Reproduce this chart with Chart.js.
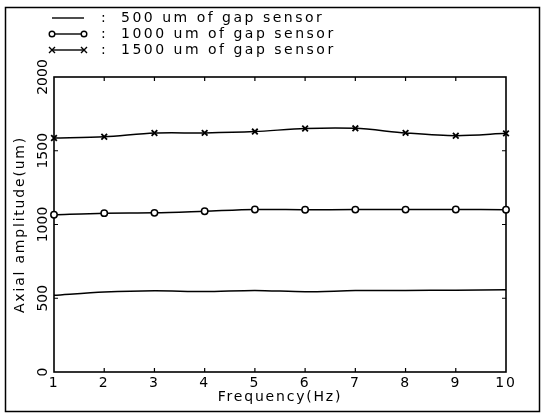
<!DOCTYPE html>
<html><head><meta charset="utf-8">
<script src="https://cdn.jsdelivr.net/npm/chart.js@4/dist/chart.umd.min.js"></script>
<style>html,body{margin:0;padding:0;background:#fff;overflow:hidden}#wrap{position:relative;width:545px;height:418px}</style>
</head><body><div id="wrap"><canvas id="c" width="545" height="418"></canvas></div>
<script>
// ---- data ----
const frequencies = [1, 2, 3, 4, 5, 6, 7, 8, 9, 10];
const gap500  = [520, 542, 551, 545, 553, 544, 552, 553, 555, 558];
const gap1000 = [1066, 1077, 1079, 1090, 1102, 1100, 1101, 1101, 1102, 1100];
const gap1500 = [1586, 1595, 1620, 1621, 1630, 1651, 1652, 1621, 1602, 1618];
const seriesLabels = ['500 um of gap sensor', '1000 um of gap sensor', '1500 um of gap sensor'];
const xTicks = [1, 2, 3, 4, 5, 6, 7, 8, 9, 10];
const yTicks = [0, 500, 1000, 1500, 2000];
const xTitle = 'Frequency(Hz)';
const yTitle = 'Axial amplitude(um)';

const FONT = '"DejaVu Sans", sans-serif';
const toXY = (ys) => frequencies.map((f, i) => ({x: f, y: ys[i]}));

const paperPlugin = {
  id: 'paper',
  beforeDraw(chart) {
    const ctx = chart.ctx;
    ctx.save();
    ctx.fillStyle = '#fff';
    ctx.fillRect(0, 0, chart.width, chart.height);
    ctx.restore();
    ctx.letterSpacing = '1.8px';
  },
  beforeDatasetsDraw(chart) {
    const ctx = chart.ctx;
    const a = chart.chartArea;
    const xs = chart.scales.x, ys = chart.scales.y;
    ctx.save();
    ctx.strokeStyle = '#000';
    ctx.lineWidth = 1.6;
    ctx.strokeRect(a.left, a.top, a.right - a.left, a.bottom - a.top);
    ctx.lineWidth = 1.2;
    ctx.beginPath();
    xs.ticks.forEach((t, i) => {
      const px = xs.getPixelForTick(i);
      if (px <= a.left + 1 || px >= a.right - 1) return;
      ctx.moveTo(px, a.bottom); ctx.lineTo(px, a.bottom - 4);
      ctx.moveTo(px, a.top); ctx.lineTo(px, a.top + 4);
    });
    ys.ticks.forEach((t, i) => {
      const py = ys.getPixelForTick(i);
      if (py <= a.top + 1 || py >= a.bottom - 1) return;
      ctx.moveTo(a.left, py); ctx.lineTo(a.left + 4, py);
      ctx.moveTo(a.right, py); ctx.lineTo(a.right - 4, py);
    });
    ctx.stroke();
    ctx.restore();
  },
  afterDraw(chart) {
    const ctx = chart.ctx;
    const a = chart.chartArea;
    const ys = chart.scales.y;
    ctx.save();
    ctx.letterSpacing = '0px';
    // rotated y tick labels
    ctx.fillStyle = '#000';
    ctx.font = '14px ' + FONT;
    ctx.textAlign = 'center';
    ctx.textBaseline = 'middle';
    ys.ticks.forEach((t, i) => {
      const py = ys.getPixelForTick(i);
      ctx.save();
      ctx.translate(a.left - 11, py);
      ctx.rotate(-Math.PI / 2);
      ctx.fillText(String(t.value), 0, 0);
      ctx.restore();
    });
    // legend
    const rowY = [18, 34, 50];
    chart.data.datasets.forEach((ds, i) => {
      const y = rowY[i];
      ctx.strokeStyle = '#000';
      ctx.lineWidth = 1.4;
      ctx.beginPath(); ctx.moveTo(52, y); ctx.lineTo(84, y); ctx.stroke();
      if (ds.pointStyle === 'circle') {
        [52, 84].forEach(px => {
          ctx.beginPath(); ctx.arc(px, y, 2.8, 0, Math.PI * 2);
          ctx.fillStyle = '#fff'; ctx.fill(); ctx.stroke();
        });
      } else if (ds.pointStyle === 'crossRot') {
        [52, 84].forEach(px => {
          ctx.beginPath();
          ctx.moveTo(px - 3, y - 3); ctx.lineTo(px + 3, y + 3);
          ctx.moveTo(px - 3, y + 3); ctx.lineTo(px + 3, y - 3);
          ctx.stroke();
        });
      }
      ctx.fillStyle = '#000';
      ctx.font = '14px ' + FONT;
      ctx.textAlign = 'left';
      ctx.letterSpacing = '0px';
      ctx.fillText(':', 101, y);
      ctx.letterSpacing = '2.5px';
      ctx.fillText(ds.label, 121, y);
      ctx.letterSpacing = '0px';
    });
    // outer frame
    ctx.strokeStyle = '#000';
    ctx.lineWidth = 1.5;
    ctx.strokeRect(5.5, 7.5, 534, 404);
    ctx.restore();
  }
};

new Chart(document.getElementById('c'), {
  type: 'line',
  data: {
    datasets: [
      {label: seriesLabels[0], data: toXY(gap500), borderColor: '#000', borderWidth: 1.5,
       pointRadius: 0, pointStyle: false, tension: 0.3},
      {label: seriesLabels[1], data: toXY(gap1000), borderColor: '#000', borderWidth: 1.5,
       pointStyle: 'circle', pointRadius: 3.2, pointBackgroundColor: '#fff', pointBorderColor: '#000',
       pointBorderWidth: 1.5, tension: 0.3},
      {label: seriesLabels[2], data: toXY(gap1500), borderColor: '#000', borderWidth: 1.5,
       pointStyle: 'crossRot', pointRadius: 4, pointBorderColor: '#000', pointBorderWidth: 1.8,
       tension: 0.3}
    ]
  },
  options: {
    responsive: false,
    animation: false,
    devicePixelRatio: 1,
    clip: false,
    layout: {padding: {left: 0, right: 39, top: 77, bottom: 0}},
    plugins: {legend: {display: false}, tooltip: {enabled: false}},
    scales: {
      x: {
        type: 'linear', min: 1, max: 10,
        afterBuildTicks: s => { s.ticks = xTicks.map(v => ({value: v})); },
        afterFit: s => { s.height = 46; },
        grid: {display: false}, border: {display: false},
        ticks: {color: '#000', font: {family: FONT, size: 14}, padding: -5, maxRotation: 0,
                callback: v => String(v)},
        title: {display: true, text: xTitle, color: '#000', font: {family: FONT, size: 14},
                padding: {top: 0, bottom: 12}}
      },
      y: {
        type: 'linear', min: 0, max: 2000,
        afterBuildTicks: s => { s.ticks = yTicks.map(v => ({value: v})); },
        afterFit: s => { s.width = 54; },
        grid: {display: false}, border: {display: false},
        ticks: {display: false},
        title: {display: true, text: yTitle, color: '#000', font: {family: FONT, size: 14},
                padding: {top: 12, bottom: 0}}
      }
    }
  },
  plugins: [paperPlugin]
});
</script>
</body></html>
